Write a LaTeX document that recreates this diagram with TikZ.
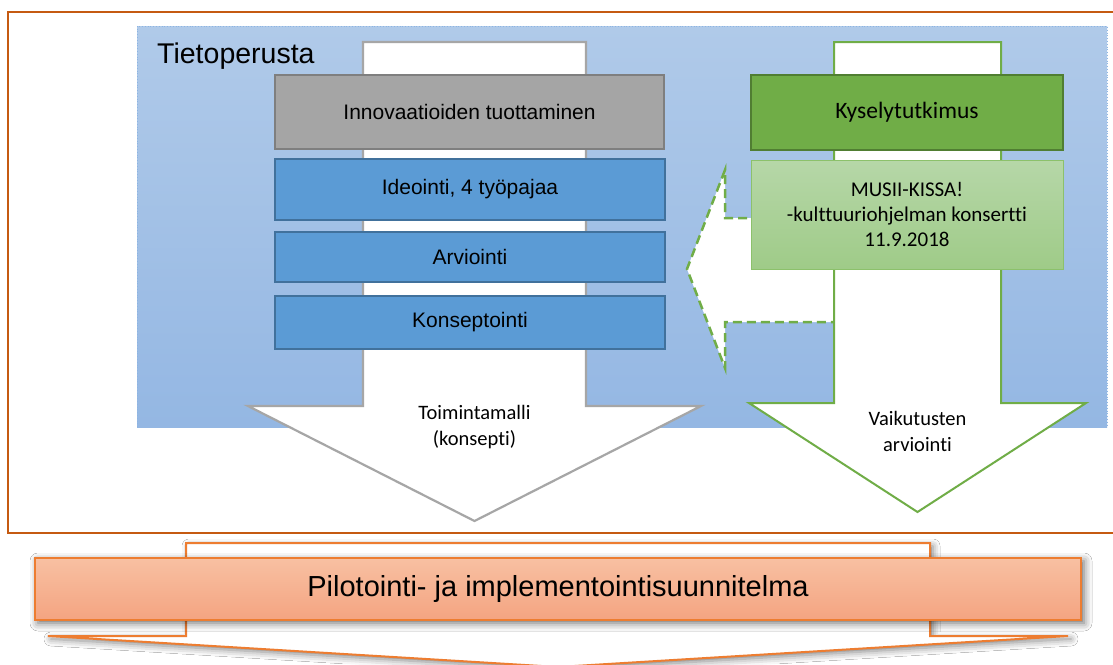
\documentclass[tikz,border=0pt]{standalone}
\usepackage{fontspec}
\setmainfont{Liberation Sans}
\newfontfamily\calibrifont[Ligatures={NoCommon}]{Carlito}
\usetikzlibrary{shadows.blur}
\definecolor{frameorange}{HTML}{C55A11}
\definecolor{orangeline}{HTML}{ED7D31}
\definecolor{bannertop}{HTML}{F8C0A2}
\definecolor{bannerbot}{HTML}{F4A481}
\definecolor{bgtop}{HTML}{B0CAE9}
\definecolor{bgbot}{HTML}{94B7E3}
\definecolor{bgedge}{HTML}{8DB4E2}
\definecolor{arrowgray}{HTML}{A6A6A6}
\definecolor{graybox}{HTML}{A5A5A5}
\definecolor{grayedge}{HTML}{7F7F7F}
\definecolor{bluebox}{HTML}{5B9BD5}
\definecolor{blueedge}{HTML}{41719C}
\definecolor{greenmain}{HTML}{70AD47}
\definecolor{greenedge}{HTML}{507E32}
\definecolor{lgtop}{HTML}{B6D7A8}
\definecolor{lgbot}{HTML}{9FCB88}
\definecolor{lgedge}{HTML}{8CC16B}
\tikzset{
  boxtext/.style={font=\fontsize{21}{25}\selectfont, text=black, inner sep=0pt, align=center},
  grayrect/.style={boxtext, draw=grayedge, fill=graybox, line width=2.5pt, minimum width=389pt},
  bluerect/.style={boxtext, draw=blueedge, fill=bluebox, line width=1.5pt, minimum width=390pt},
  greenrect/.style={boxtext, font=\calibrifont\fontsize{23.5}{27}\selectfont, draw=greenedge, fill=greenmain, line width=2.5pt, minimum width=312pt},
  lightgreenrect/.style={boxtext, font=\calibrifont\fontsize{21}{25}\selectfont, draw=lgedge, top color=lgtop, bottom color=lgbot, line width=1pt, minimum width=312pt},
  arrowtext/.style={font=\calibrifont\fontsize{20.5}{26}\selectfont, align=center, inner sep=0pt},
  grayarrow/.style={draw=arrowgray, fill=white, line width=2.2pt, line join=miter},
  greenarrow/.style={draw=greenmain, fill=white, line width=2pt, line join=miter},
  dasharrow/.style={draw=greenmain, line width=2.5pt, dash pattern=on 9pt off 5pt},
  bottomarrow/.style={draw=orangeline, fill=white, line width=2pt, line join=miter,
     blur shadow={shadow xshift=3pt, shadow yshift=-3pt, shadow blur radius=7pt, shadow opacity=50}},
  bannerbox/.style={draw=orangeline, top color=bannertop, bottom color=bannerbot, line width=1.5pt,
     minimum width=1046pt, minimum height=62pt, inner sep=0pt, font=\fontsize{29}{33}\selectfont,
     blur shadow={shadow xshift=3pt, shadow yshift=-3pt, shadow blur radius=8pt, shadow opacity=60}}
}
\begin{document}
\begin{tikzpicture}[x=1pt,y=-1pt]
\useasboundingbox (0,0) rectangle (1113,664);
\fill[white] (0,0) rectangle (1113,664);
% outer frame
\draw[frameorange, line width=2.5pt] (8,12) rectangle (1130,533);
% knowledge base background
\shade[top color=bgtop, bottom color=bgbot] (137,26) rectangle (1107,427);
\draw[bgedge, line width=0.8pt, dotted] (137,427) -- (137,26) -- (1107,26) -- (1107,427);
\node[anchor=base west, inner sep=0pt, font=\fontsize{28.5}{32}\selectfont] (tieto) at (157,63) {Tietoperusta};
% gray arrow
\draw[grayarrow] (363,42) -- (586,42) -- (586,406) -- (701,406) -- (474.5,521) -- (248,406) -- (363,406) -- cycle;
\node[arrowtext] (toim) at (474.5,427) {Toimintamalli\\(konsepti)};
% dashed arrow
\fill[white] (845,218) -- (725,218) -- (725,170) -- (687,269) -- (725,368) -- (725,322) -- (845,322) -- cycle;
\draw[dasharrow] (845,218) -- (725,218) -- (725,170) -- (687,269) -- (725,368) -- (725,322) -- (845,322);
% green arrow
\draw[greenarrow] (834,42) -- (1001,42) -- (1001,403) -- (1086,403) -- (917.5,512) -- (749,403) -- (834,403) -- cycle;
\node[arrowtext] (vaik) at (917.5,431) {Vaikutusten\\arviointi};
% boxes
\node[grayrect, minimum height=74pt] (innov) at (469.5,112) {Innovaatioiden tuottaminen};
\node[bluerect, minimum height=61pt] (ideo) at (470,189.5) {Ideointi, 4 työpajaa};
\node[bluerect, minimum height=50pt] (arv) at (470,257) {Arviointi};
\node[bluerect, minimum height=53pt] (kons) at (470,322.5) {Konseptointi};
\node[greenrect, minimum height=75pt] (kysely) at (907,112.5) {Kyselytutkimus};
\node[lightgreenrect, minimum height=109pt] (musii) at (907,214.5) {MUSII-KISSA!\\-kulttuuriohjelman konsertti\\11.9.2018};
% bottom arrow and banner
\draw[bottomarrow] (186,543) -- (930,543) -- (930,636) -- (1068,636) -- (558,667) -- (48,636) -- (186,636) -- cycle;
\node[bannerbox] (pilot) at (558,589) {Pilotointi- ja implementointisuunnitelma};
\end{tikzpicture}
\end{document}
